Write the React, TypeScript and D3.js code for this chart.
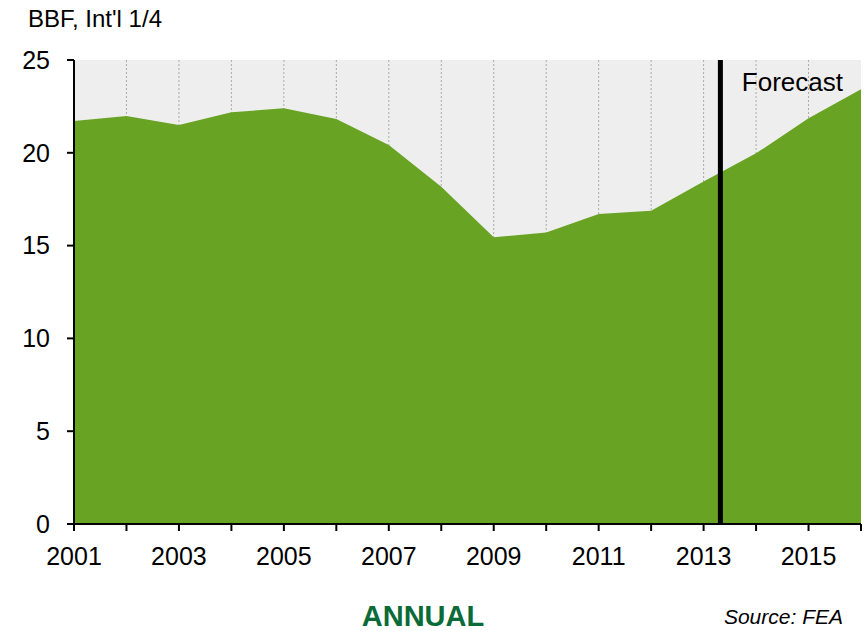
import React from "react";
import * as d3 from "d3";

const years = [2001, 2002, 2003, 2004, 2005, 2006, 2007, 2008, 2009, 2010, 2011, 2012, 2013, 2014, 2015, 2016];
const values = [21.71, 21.98, 21.5, 22.18, 22.4, 21.82, 20.42, 18.17, 15.45, 15.7, 16.7, 16.88, 18.45, 19.97, 21.86, 23.42];
const yTicks = [0, 5, 10, 15, 20, 25];
const xTickLabels = [2001, 2003, 2005, 2007, 2009, 2011, 2013, 2015];
const forecastYear = 2013.32;

const W = 865, H = 631;
const left = 74, right = 861, top = 60, bottom = 524;

export default function App() {
  const x = d3.scaleLinear().domain([2001, 2016]).range([left, right]);
  const y = d3.scaleLinear().domain([0, 25]).range([bottom, top]);
  const data = years.map((yr, i) => ({ yr, v: values[i] }));
  const area = d3.area<{ yr: number; v: number }>()
    .x(d => x(d.yr))
    .y0(y(0))
    .y1(d => y(d.v));
  const font = "Arial, 'Liberation Sans', sans-serif";
  return (
    <svg width={W} height={H} style={{ position: "absolute", left: 0, top: 0 }} fontFamily={font}>
      <rect x={0} y={0} width={W} height={H} fill="#fff" />
      <rect x={left} y={top} width={right - left} height={bottom - top} fill="#eeeeee" />
      {years.slice(1, -1).map(yr => (
        <line key={yr} x1={x(yr)} x2={x(yr)} y1={top} y2={bottom} stroke="#aaaaaa" strokeWidth={1} strokeDasharray="2,2" />
      ))}
      <path d={area(data) || ""} fill="#69a324" />
      <line x1={x(forecastYear)} x2={x(forecastYear)} y1={top} y2={bottom} stroke="#000" strokeWidth={5} />
      <text x={843} y={91} fontSize={26} textAnchor="end" fill="#000">Forecast</text>
      {/* axes */}
      <line x1={left} x2={left} y1={top} y2={bottom + 6} stroke="#000" strokeWidth={2} />
      <line x1={left - 6} x2={right} y1={bottom} y2={bottom} stroke="#000" strokeWidth={2} />
      {yTicks.map(t => (
        <g key={t}>
          <line x1={left - 7} x2={left} y1={y(t)} y2={y(t)} stroke="#000" strokeWidth={2} />
          <text x={50} y={y(t)} dy="0.35em" fontSize={25} textAnchor="end" fill="#000">{t}</text>
        </g>
      ))}
      {years.map(yr => (
        <line key={yr} x1={x(yr)} x2={x(yr)} y1={bottom} y2={bottom + 7} stroke="#000" strokeWidth={2} />
      ))}
      {xTickLabels.map(yr => (
        <text key={yr} x={x(yr)} y={565} fontSize={25} textAnchor="middle" fill="#000">{yr}</text>
      ))}
      <text x={28} y={27} fontSize={24} fill="#000">BBF, Int'l 1/4</text>
      <text x={423} y={626} fontSize={29} fontWeight="bold" textAnchor="middle" fill="#0b6b38">ANNUAL</text>
      <text x={843} y={624} fontSize={21} fontStyle="italic" textAnchor="end" fill="#000">Source: FEA</text>
    </svg>
  );
}
